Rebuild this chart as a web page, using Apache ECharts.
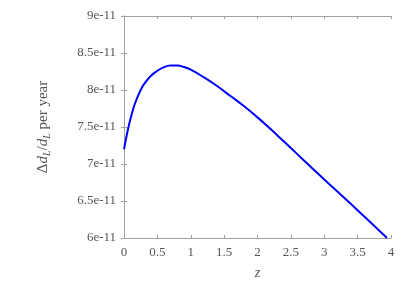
<!DOCTYPE html>
<html>
<head>
<meta charset="utf-8">
<script src="https://cdn.jsdelivr.net/npm/echarts@6/dist/echarts.min.js"></script>
<style>html,body{margin:0;padding:0;background:#fff}#c{width:415px;height:285px}</style>
</head>
<body>
<div id="c"></div>
<script>
const zValues = [0, 0.05, 0.1, 0.15, 0.2, 0.25, 0.3, 0.4, 0.5, 0.6, 0.7, 0.8, 0.9, 1.0, 1.2, 1.4, 1.6, 1.8, 2.0, 2.2, 2.4, 2.6, 2.8, 3.0, 3.2, 3.4, 3.6, 3.8, 3.94];
const dLRate = [7.20e-11, 7.43e-11, 7.62e-11, 7.78e-11, 7.90e-11, 8.00e-11, 8.08e-11, 8.19e-11, 8.26e-11, 8.31e-11, 8.33e-11, 8.33e-11, 8.31e-11, 8.275e-11, 8.17e-11, 8.05e-11, 7.915e-11, 7.78e-11, 7.63e-11, 7.47e-11, 7.30e-11, 7.13e-11, 6.96e-11, 6.79e-11, 6.625e-11, 6.46e-11, 6.29e-11, 6.12e-11, 6.00e-11];
const xTicks = [0, 0.5, 1, 1.5, 2, 2.5, 3, 3.5, 4];
const yTickLabels = ['6e-11', '6.5e-11', '7e-11', '7.5e-11', '8e-11', '8.5e-11', '9e-11'];

const font = '"Liberation Serif", "DejaVu Serif", serif';
const axisCol = '#a0a0a0';
const txtCol = '#555';

function yFmt(v) {
  const i = Math.round((v - 6e-11) / 0.5e-11);
  return yTickLabels[i] !== undefined ? yTickLabels[i] : '';
}

const chart = echarts.init(document.getElementById('c'), null, {renderer: 'canvas'});
const common = {
  axisLine: {show: true, lineStyle: {color: axisCol, width: 1}},
  axisTick: {show: true, inside: true, length: 3, lineStyle: {color: axisCol}},
  splitLine: {show: false}
};
chart.setOption({
  animation: false,
  grid: {left: 124, right: 24, top: 16, bottom: 43},
  xAxis: [
    Object.assign({
      type: 'value', min: xTicks[0], max: xTicks[xTicks.length - 1], interval: 0.5,
      position: 'bottom',
      name: 'z', nameLocation: 'middle', nameGap: 28,
      nameTextStyle: {fontFamily: font, fontStyle: 'italic', fontSize: 14, color: txtCol},
      axisLabel: {fontFamily: font, fontSize: 13, color: txtCol, margin: 8}
    }, common),
    Object.assign({
      type: 'value', min: 0, max: 4, interval: 0.5, position: 'top',
      axisLabel: {show: false}
    }, common)
  ],
  yAxis: [
    Object.assign({
      type: 'value', min: 6e-11, max: 9e-11, interval: 0.5e-11,
      position: 'left',
      name: '{r|Δ}{i|d}{s|L}{r|/}{i|d}{s|L}{r| per year}', nameLocation: 'middle', nameGap: 72, nameRotate: 90,
      nameTextStyle: {
        fontFamily: font, fontSize: 15, color: txtCol,
        rich: {
          r: {fontFamily: font, fontSize: 15, color: txtCol},
          i: {fontFamily: font, fontSize: 15, fontStyle: 'italic', color: txtCol},
          s: {fontFamily: font, fontSize: 10, fontStyle: 'italic', color: txtCol, verticalAlign: 'bottom', padding: [7, 0, 0, 0]}
        }
      },
      axisLabel: {fontFamily: font, fontSize: 13, color: txtCol, margin: 8, formatter: yFmt}
    }, common),
    Object.assign({
      type: 'value', min: 6e-11, max: 9e-11, interval: 0.5e-11, position: 'right',
      axisLabel: {show: false}
    }, common)
  ],
  series: [{
    type: 'line',
    xAxisIndex: 0, yAxisIndex: 0,
    data: zValues.map((z, i) => [z, dLRate[i]]),
    smooth: 0.4,
    showSymbol: false,
    lineStyle: {color: '#0000ff', width: 2},
    clip: true
  }]
});
</script>
</body>
</html>
